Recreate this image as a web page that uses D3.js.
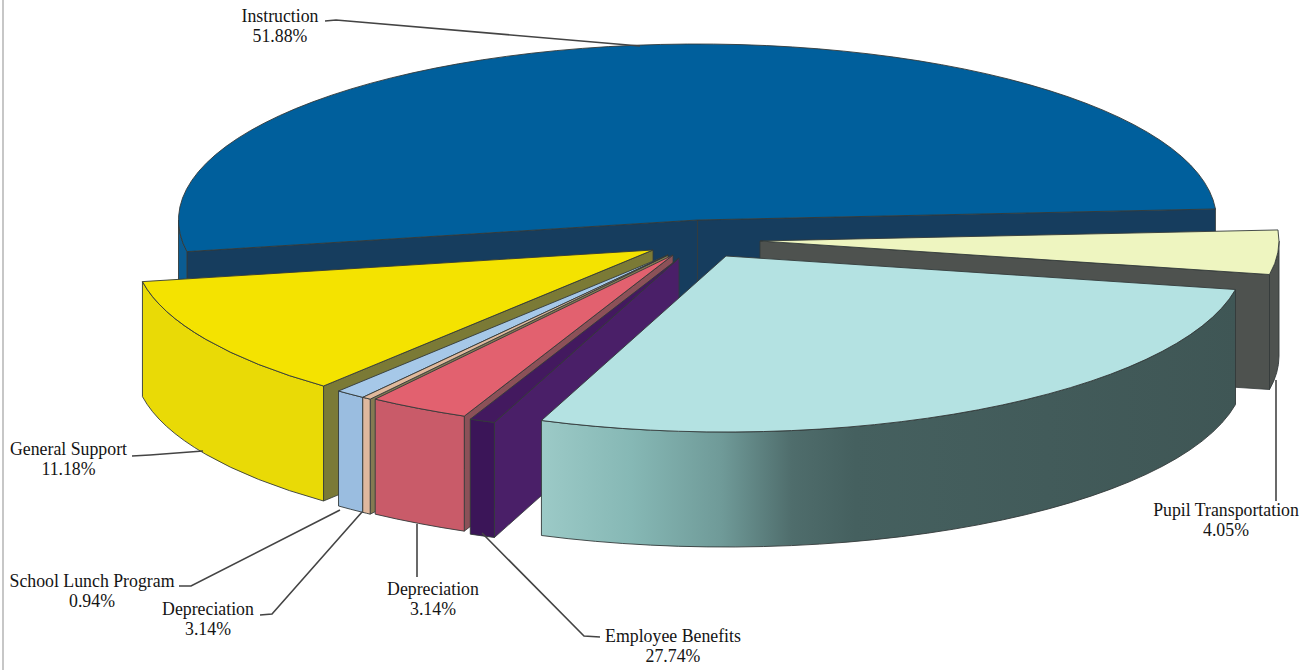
<!DOCTYPE html>
<html><head><meta charset="utf-8">
<script src="https://cdn.jsdelivr.net/npm/d3@7"></script>
<style>html,body{margin:0;padding:0;background:#fff}svg{display:block}
text{font-family:"Liberation Serif",serif;font-size:17.8px;fill:#141414;text-anchor:middle}</style>
</head><body><svg id="c" width="1315" height="670"></svg>
<script>
// DATA (drawn clockwise, starting with Pupil Transportation)
const sliceNames  = ["Pupil Transportation","Employee Benefits (large)","Employee Benefits (sliver)","Depreciation (red)","Depreciation (tan)","School Lunch Program","General Support","Instruction"];
const sliceValues = [4.05, 27.74, 0.8, 3.14, 0.28, 0.94, 11.18, 51.88];
const labelNames  = ["Instruction","Pupil Transportation","Employee Benefits","Depreciation","Depreciation","School Lunch Program","General Support"];
const labelValues = ["51.88%","4.05%","27.74%","3.14%","3.14%","0.94%","11.18%"];

// STYLE / LAYOUT
const topColors  = ["#eef5c0","#b4e2e2","#43195f","#e2616f","#e0b99c","#a6c8e8","#f4e300","#005f9c"];
const wallColors = ["#4e524f","#48605f","#4a1f68","#8b5158","#847a52","#6f7f8f","#7b7a36","#163d5e"];
const arcColors  = ["#4e524f","url(#tealWall)","#3b1558","#c95b69","#dfb89e","#9abde0","#e9da06","#0b5c92"];
const centersX   = [760,726,679,673,668,668,653,697.5];
const centersY   = [241,256,258,255,255,255,250,220];
const paintOrder = [7,0,6,5,4,3,2,1];
const rx = 519, ry = 176, depth = 115;
const labelX  = [280,1226,673,433,208,92,68.5];
const labelY  = [22,516,642,595,615,587,455];
const leaders = [
  [[325,21],[336,20],[640,46]],
  [[1276,380],[1276,501]],
  [[600,637],[584,636],[482,533]],
  [[417,524],[417,577]],
  [[260,615],[272,614],[362,512]],
  [[179,586],[191,586],[340,510]],
  [[132,456],[150,455],[203,451]]
];

const svg = d3.select("#c");
const defs = svg.append("defs");
const g = defs.append("linearGradient").attr("id","tealWall").attr("gradientUnits","userSpaceOnUse")
  .attr("x1",540).attr("x2",1240).attr("y1",0).attr("y2",0);
[[0,"#9ccac7"],[0.13,"#86b8b5"],[0.26,"#6f9a98"],[0.36,"#4f6d6c"],[0.45,"#45605f"],[1,"#3f5655"]]
  .forEach(s=>g.append("stop").attr("offset",s[0]).attr("stop-color",s[1]));

svg.append("line").attr("x1",3).attr("x2",3).attr("y1",0).attr("y2",670)
  .attr("stroke","#b5b5b5").attr("stroke-width",1.5);

const rad = d=>d*Math.PI/180;
const start = rad(86.4);
const pie = d3.pie().sort(null).startAngle(start).endAngle(start+2*Math.PI);
const arcs = pie(sliceValues);
const topArc = d3.arc().innerRadius(0).outerRadius(rx);
// d3 angle (0 = up, clockwise) to a point on the tilted ellipse
const pt = (i,a,dy=0)=>[centersX[i]+rx*Math.sin(a), centersY[i]-ry*Math.cos(a)+dy];
const ln = d3.line();
const stroke = "#333a3a";

paintOrder.forEach(i=>{
  const a0 = arcs[i].startAngle, a1 = arcs[i].endAngle;
  const cx = centersX[i], cy = centersY[i];
  const layer = svg.append("g");
  const wall = a=>{
    layer.append("path")
      .attr("d", ln([[cx,cy],pt(i,a),pt(i,a,depth),[cx,cy+depth]])+"Z")
      .attr("fill",wallColors[i]).attr("stroke",stroke).attr("stroke-width",0.8);
  };
  // radial walls facing the viewer
  const norm = a=>((a%(2*Math.PI))+2*Math.PI)%(2*Math.PI);
  if (Math.sin(norm(a0))<0) wall(a0);
  if (Math.sin(norm(a1))>0) wall(a1);
  // outer curved wall: only where the rim faces the viewer (d3 angles 90..270 deg)
  const lo = Math.max(a0, Math.PI/2), hi = Math.min(a1, 3*Math.PI/2);
  if (hi>lo){
    const p0=pt(i,lo), p1=pt(i,hi), p2=pt(i,hi,depth), p3=pt(i,lo,depth);
    layer.append("path")
      .attr("d",`M${p0}A${rx} ${ry} 0 0 1 ${p1}L${p2}A${rx} ${ry} 0 0 0 ${p3}Z`)
      .attr("fill",arcColors[i]).attr("stroke",stroke).attr("stroke-width",0.9);
  }
  // top face: d3.arc squashed into an ellipse
  layer.append("path")
    .attr("transform",`translate(${cx},${cy}) scale(1,${ry/rx})`)
    .attr("d",topArc(arcs[i]))
    .attr("fill",topColors[i]).attr("stroke",stroke).attr("stroke-width",0.9)
    .attr("vector-effect","non-scaling-stroke");
});

leaders.forEach(p=>svg.append("path").attr("d",ln(p)).attr("fill","none")
  .attr("stroke","#444").attr("stroke-width",1.6));

labelNames.forEach((n,i)=>{
  svg.append("text").attr("x",labelX[i]).attr("y",labelY[i]).text(n);
  svg.append("text").attr("x",labelX[i]).attr("y",labelY[i]+20).text(labelValues[i]);
});
</script></body></html>
